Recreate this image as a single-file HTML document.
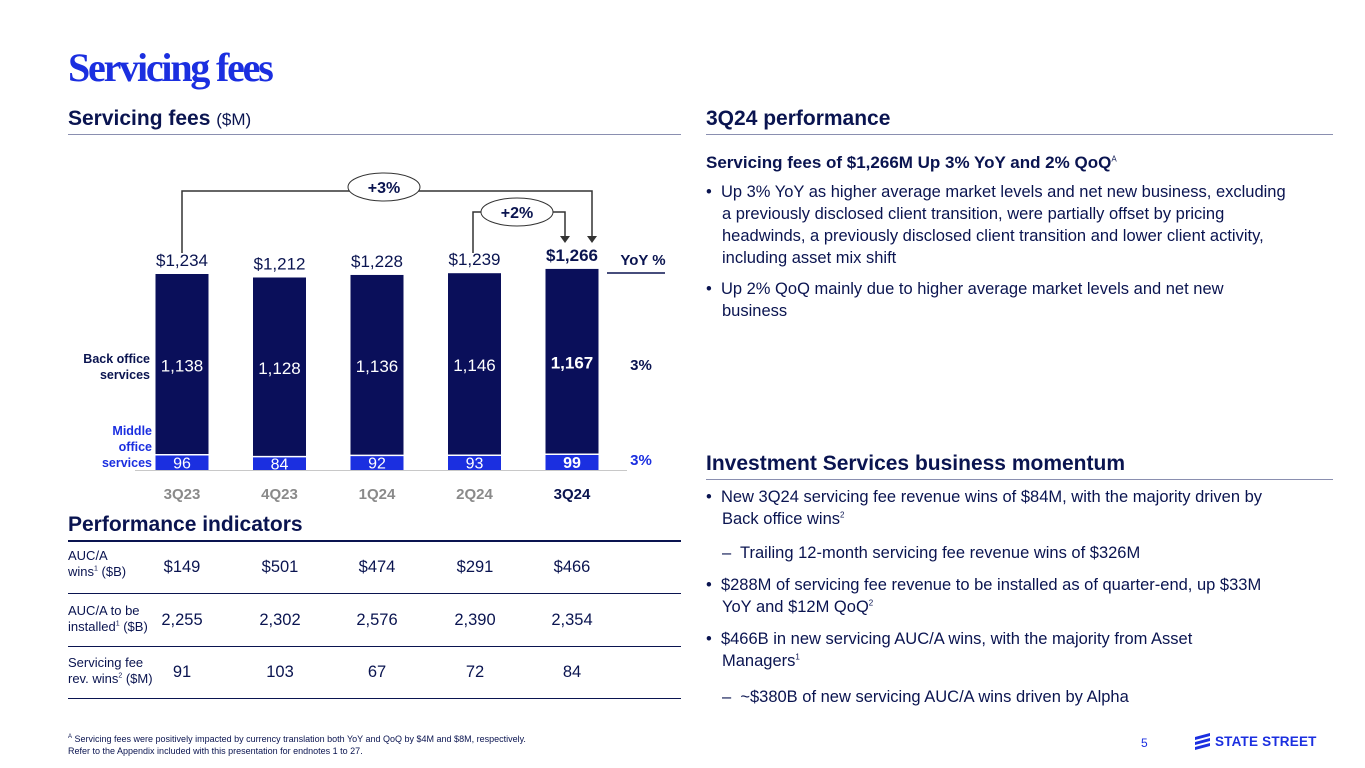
<!DOCTYPE html>
<html><head><meta charset="utf-8"><style>
body{margin:0;width:1365px;height:768px;background:#fff;font-family:"Liberation Sans",sans-serif;position:relative;overflow:hidden;color:#0a1450}
.a{position:absolute}
.h2{font-weight:bold;font-size:21px;color:#0a1450}
.rule{position:absolute;height:1px;background:#8a8fb0}
.txt{font-size:16.5px;line-height:22px;color:#0a1450}
sup{line-height:0}
.row{position:absolute;left:68px;width:613px;height:52px;border-bottom:1.5px solid #0a1450;font-size:16.5px}
.row .lab{position:absolute;left:0;font-size:13px;line-height:16px;color:#0a1450}
.row .v{position:absolute;width:80px;text-align:center;top:17px}
</style></head><body>
<div class="a" style="left:68px;top:44px;font-family:'Liberation Serif',serif;font-weight:bold;font-size:40px;color:#1b2fe0;letter-spacing:-2.2px">Servicing fees</div>

<div class="a h2" style="left:68px;top:107px">Servicing fees <span style="font-weight:normal;font-size:17px">($M)</span></div>
<div class="rule" style="left:68px;top:134px;width:613px"></div>
<div class="a h2" style="left:706px;top:107px">3Q24 performance</div>
<div class="rule" style="left:706px;top:134px;width:627px"></div>

<svg class="a" style="left:0;top:0" width="700" height="510" id="chart"></svg>

<div class="a h2" style="left:68px;top:513px">Performance indicators</div>
<div class="rule" style="left:68px;top:540px;width:613px;height:1.5px;background:#0a1450"></div>
<div class="row" style="top:541px"><div class="lab" style="top:7px">AUC/A<br>wins<sup style="font-size:7px">1</sup> ($B)</div><div class="v" style="left:74px">$149</div><div class="v" style="left:172px">$501</div><div class="v" style="left:269px">$474</div><div class="v" style="left:367px">$291</div><div class="v" style="left:464px">$466</div></div>
<div class="row" style="top:594px"><div class="lab" style="top:9px">AUC/A to be<br>installed<sup style="font-size:7px">1</sup> ($B)</div><div class="v" style="left:74px">2,255</div><div class="v" style="left:172px">2,302</div><div class="v" style="left:269px">2,576</div><div class="v" style="left:367px">2,390</div><div class="v" style="left:464px">2,354</div></div>
<div class="row" style="top:646px"><div class="lab" style="top:9px">Servicing fee<br>rev. wins<sup style="font-size:7px">2</sup> ($M)</div><div class="v" style="left:74px">91</div><div class="v" style="left:172px">103</div><div class="v" style="left:269px">67</div><div class="v" style="left:367px">72</div><div class="v" style="left:464px">84</div></div>

<div class="a" style="left:706px;top:153px;font-weight:bold;font-size:17px">Servicing fees of $1,266M Up 3% YoY and 2% QoQ<sup style="font-size:8px;font-weight:normal">A</sup></div>
<div class="a txt" style="left:706px;top:181px;width:580px">
<div style="padding-left:16px;text-indent:-16px">•&nbsp; Up 3% YoY as higher average market levels and net new business, excluding a previously disclosed client transition, were partially offset by pricing headwinds, a previously disclosed client transition and lower client activity, including asset mix shift</div>
<div style="padding-left:16px;text-indent:-16px;margin-top:9px">•&nbsp; Up 2% QoQ mainly due to higher average market levels and net new business</div>
</div>

<div class="a h2" style="left:706px;top:452px">Investment Services business momentum</div>
<div class="rule" style="left:706px;top:479px;width:627px"></div>
<div class="a txt" style="left:706px;top:486px;width:560px">
<div style="padding-left:16px;text-indent:-16px">•&nbsp; New 3Q24 servicing fee revenue wins of $84M, with the majority driven by Back office wins<sup style="font-size:8px">2</sup></div>
<div style="padding-left:16px;margin-top:12px">–&nbsp; Trailing 12-month servicing fee revenue wins of $326M</div>
<div style="padding-left:16px;text-indent:-16px;margin-top:10px">•&nbsp; $288M of servicing fee revenue to be installed as of quarter-end, up $33M YoY and $12M QoQ<sup style="font-size:8px">2</sup></div>
<div style="padding-left:16px;text-indent:-16px;margin-top:10px">•&nbsp; $466B in new servicing AUC/A wins, with the majority from Asset Managers<sup style="font-size:8px">1</sup></div>
<div style="padding-left:16px;margin-top:14px">–&nbsp; ~$380B of new servicing AUC/A wins driven by Alpha</div>
</div>

<div class="a" style="left:68px;top:733px;font-size:9px;line-height:12px;color:#0a1450"><sup style="font-size:6px">A</sup> Servicing fees were positively impacted by currency translation both YoY and QoQ by $4M and $8M, respectively.<br>Refer to the Appendix included with this presentation for endnotes 1 to 27.</div>
<div class="a" style="left:1141px;top:736px;font-size:12px;color:#1b2fe0">5</div>
<div class="a" style="left:1195px;top:734px;font-weight:bold;font-size:13.5px;color:#1b2fe0;letter-spacing:0.2px"><span style="display:inline-block;width:16px;height:14px;vertical-align:-2px;position:relative"><span style="position:absolute;left:0;top:1px;width:15px;height:3px;background:#1b2fe0;transform:skewY(-15deg)"></span><span style="position:absolute;left:0;top:6px;width:15px;height:3px;background:#1b2fe0;transform:skewY(-15deg)"></span><span style="position:absolute;left:0;top:11px;width:15px;height:3px;background:#1b2fe0;transform:skewY(-15deg)"></span></span> STATE STREET</div>

<script>
const categories=["3Q23","4Q23","1Q24","2Q24","3Q24"];
const backOffice=[1138,1128,1136,1146,1167];
const middleOffice=[96,84,92,93,99];
const totals=["$1,234","$1,212","$1,228","$1,239","$1,266"];
const yoy=["3%","3%"];
const NS="http://www.w3.org/2000/svg";
const svg=document.getElementById('chart');
const base=470,scale=196/1234,bw=53;
const xc=i=>182+i*97.5;
const y=v=>base-v*scale;
function mk(t,a,txt){const e=document.createElementNS(NS,t);for(const k in a)e.setAttribute(k,a[k]);if(txt!==undefined)e.textContent=txt;svg.appendChild(e);return e;}
categories.forEach((c,i)=>{
 const last=i===categories.length-1;
 const tot=backOffice[i]+middleOffice[i];
 const b=mk('rect',{x:xc(i)-bw/2,y:y(tot),width:bw,height:backOffice[i]*scale,fill:'#0a0f5a'});
 
 
 const m=mk('rect',{x:xc(i)-bw/2,y:y(middleOffice[i]),width:bw,height:middleOffice[i]*scale,fill:'#1b2fe0'});
 
 
 mk('line',{x1:xc(i)-bw/2,x2:xc(i)+bw/2,y1:y(middleOffice[i]),y2:y(middleOffice[i]),stroke:'#fff','stroke-width':1.5});
 const fw=last?'bold':'normal';
 mk('text',{x:xc(i),y:y(tot)-8,'text-anchor':'middle','font-size':17,'font-weight':fw,fill:'#0a1450'},totals[i]);
 mk('text',{x:xc(i),y:y(tot)+(backOffice[i]*scale)/2+7,'text-anchor':'middle','font-size':17,'font-weight':fw,fill:'#fff'},backOffice[i].toLocaleString('en-US'));
 mk('text',{x:xc(i),y:y(middleOffice[i]/2)+6,'text-anchor':'middle','font-size':16,'font-weight':fw,fill:'#fff'},middleOffice[i]);
 mk('text',{x:xc(i),y:499,'text-anchor':'middle','font-size':15,'font-weight':'bold',fill:last?'#0a1450':'#8a8a8a'},c);
});
mk('line',{x1:135,x2:627,y1:base+0.5,y2:base+0.5,stroke:'#c8c8c8','stroke-width':1});
mk('text',{x:150,y:363,'text-anchor':'end','font-size':12.5,'font-weight':'bold',fill:'#0a1450'},'Back office');
mk('text',{x:150,y:379,'text-anchor':'end','font-size':12.5,'font-weight':'bold',fill:'#0a1450'},'services');
mk('text',{x:152,y:435,'text-anchor':'end','font-size':12.5,'font-weight':'bold',fill:'#1b2fe0'},'Middle');
mk('text',{x:152,y:451,'text-anchor':'end','font-size':12.5,'font-weight':'bold',fill:'#1b2fe0'},'office');
mk('text',{x:152,y:467,'text-anchor':'end','font-size':12.5,'font-weight':'bold',fill:'#1b2fe0'},'services');
mk('text',{x:643,y:265,'text-anchor':'middle','font-size':15,'font-weight':'bold',fill:'#0a1450'},'YoY %');
mk('line',{x1:607,x2:665,y1:273,y2:273,stroke:'#0a1450','stroke-width':1.5});
mk('text',{x:641,y:370,'text-anchor':'middle','font-size':15,'font-weight':'bold',fill:'#0a1450'},yoy[0]);
mk('text',{x:641,y:465,'text-anchor':'middle','font-size':15,'font-weight':'bold',fill:'#1b2fe0'},yoy[1]);
mk('path',{d:'M182 253 V191 H592 V236',fill:'none',stroke:'#333','stroke-width':1.5});
mk('path',{d:'M587 236 L597 236 L592 243 Z',fill:'#333'});
mk('path',{d:'M473 253 V212 H565 V236',fill:'none',stroke:'#333','stroke-width':1.5});
mk('path',{d:'M560 236 L570 236 L565 243 Z',fill:'#333'});
mk('ellipse',{cx:384,cy:187,rx:36,ry:14,fill:'#fff',stroke:'#333','stroke-width':1});
mk('text',{x:384,y:193,'text-anchor':'middle','font-size':16,'font-weight':'bold',fill:'#0a1450'},'+3%');
mk('ellipse',{cx:517,cy:212,rx:36,ry:14,fill:'#fff',stroke:'#333','stroke-width':1});
mk('text',{x:517,y:218,'text-anchor':'middle','font-size':16,'font-weight':'bold',fill:'#0a1450'},'+2%');
</script>
</body></html>
